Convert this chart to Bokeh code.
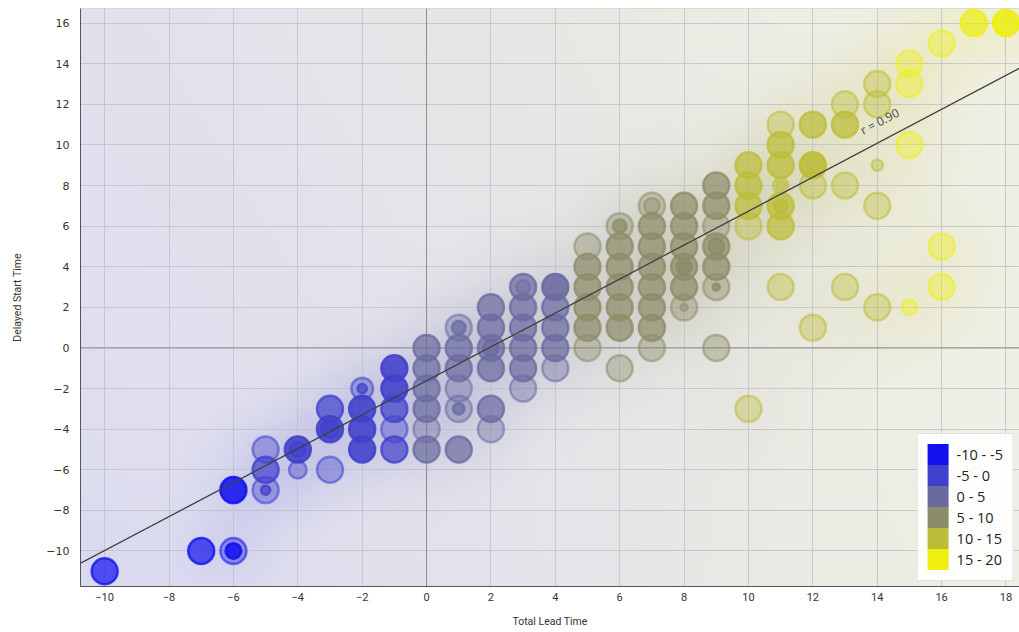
import numpy as np
from bokeh.plotting import figure
from bokeh.models import ColumnDataSource, Span, Slope, Legend, LegendItem, Label, FixedTicker
from bokeh.embed import file_html
from bokeh.resources import INLINE

# ---------------- data ----------------
x_ticks = list(range(-10, 19, 2))
y_ticks = list(range(-10, 17, 2))
class_labels = ["-10 - -5", "-5 - 0", "0 - 5", "5 - 10", "10 - 15", "15 - 20"]
class_edges = [-10, -5, 0, 5, 10, 15, 20]
class_colors = ["#1212ee", "#4040cc", "#6a6aa0", "#8c8c68", "#bcbc38", "#eeee10"]

lead_time = [-10, -7, -6, -6, -6,
             -5, -5, -5, -5, -4, -4, -4,
             -3, -3, -3, -3, -2, -2, -2, -2, -2,
             -1, -1, -1, -1, -1,
             0, 0, 0, 0, 0, 0,
             1, 1, 1, 1, 1, 1, 1, 1,
             2, 2, 2, 2, 2, 2, 2,
             3, 3, 3, 3, 3, 3, 3,
             4, 4, 4, 4, 4,
             5, 5, 5, 5, 5, 5,
             6, 6, 6, 6, 6, 6, 6, 6,
             7, 7, 7, 7, 7, 7, 7, 7, 7,
             8, 8, 8, 8, 8, 8, 8, 8, 8,
             9, 9, 9, 9, 9, 9, 9, 9, 9,
             10, 10, 10, 10, 10,
             11, 11, 11, 11, 11, 11, 11, 11, 11,
             12, 12, 12, 12,
             13, 13, 13, 13,
             14, 14, 14, 14, 14,
             15, 15, 15, 15,
             16, 16, 16,
             17, 18]
delay = [-11, -10, -10, -10, -7,
         -5, -6, -7, -7, -5, -5, -6,
         -3, -4, -4, -6, -2, -2, -3, -4, -5,
         -1, -2, -3, -4, -5,
         0, -1, -2, -3, -4, -5,
         1, 1, 0, -1, -2, -3, -3, -5,
         2, 1, 0, 0, -1, -3, -4,
         3, 3, 2, 1, 0, -1, -2,
         3, 2, 1, 0, -1,
         5, 4, 3, 2, 1, 0,
         6, 6, 5, 4, 3, 2, 1, -1,
         7, 7, 6, 5, 4, 3, 2, 1, 0,
         7, 6, 5, 4, 4, 4, 3, 2, 2,
         8, 7, 6, 5, 5, 4, 3, 3, 0,
         9, 8, 7, 6, -3,
         11, 10, 9, 8, 8, 7, 7, 6, 3,
         11, 9, 8, 1,
         12, 11, 8, 3,
         13, 12, 9, 7, 2,
         14, 13, 10, 2,
         15, 5, 3,
         16, 16]
bubble = [10, 10, 10, 5, 10,
          10, 10, 10, 2, 10, 5, 6,
          10, 10, 6, 10, 8, 2, 10, 10, 10,
          10, 10, 10, 10, 10,
          10, 10, 10, 10, 10, 10,
          10, 4, 10, 10, 10, 10, 3, 10,
          10, 10, 10, 5, 10, 10, 10,
          10, 4, 10, 10, 10, 10, 10,
          10, 10, 10, 10, 10,
          10, 10, 10, 10, 10, 10,
          10, 4, 10, 10, 10, 10, 10, 10,
          10, 5, 10, 10, 10, 10, 10, 10, 10,
          10, 10, 10, 10, 5, 2, 10, 10, 1,
          10, 10, 10, 10, 5, 10, 10, 1, 10,
          10, 10, 10, 10, 10,
          10, 10, 10, 5, 2, 10, 4, 10, 10,
          10, 10, 10, 10,
          10, 10, 10, 10,
          10, 10, 3, 10, 10,
          10, 10, 10, 5,
          10, 10, 10,
          10, 10]
intensity = [1, 1, 0, 2, 2,
             0, 1, 0, 1, 2, 1, 0,
             1, 2, 1, 0, 0, 1, 2, 2, 2,
             2, 2, 1, 0, 1,
             1, 1, 1, 1, 0, 1,
             0, 1, 1, 1, 0, 0, 1, 1,
             1, 1, 1, 1, 1, 1, 0,
             1, 0, 1, 1, 1, 1, 0,
             2, 1, 1, 1, 0,
             0, 1, 1, 1, 1, 0,
             0, 1, 1, 1, 1, 1, 1, 0,
             0, 0, 1, 1, 1, 1, 1, 1, 0,
             1, 1, 1, 1, 1, 1, 1, 0, 0,
             1, 1, 0, 1, 1, 1, 0, 1, 0,
             1, 1, 1, 0, 0,
             0, 1, 1, 0, 0, 1, 1, 1, 0,
             1, 2, 0, 0,
             0, 1, 0, 0,
             0, 0, 0, 0, 0,
             0, 0, 0, 0,
             0, 0, 0,
             1, 2]

fit_slope = 0.836
fit_intercept = -1.62
fit_r = 0.90

# ---------------- layout ----------------
W, H = 1019, 632
BL, BR, BT, BB = 80, 0, 8, 46
X0, X1 = -10.75, 18.42
Y0, Y1 = -11.75, 16.72

p = figure(width=W, height=H, output_backend="svg", toolbar_location=None,
           x_range=(X0, X1), y_range=(Y0, Y1),
           min_border_left=BL, min_border_right=BR, min_border_top=BT, min_border_bottom=BB)
p.border_fill_color = "white"
p.background_fill_color = "#f0f0f0"
p.outline_line_color = "#d4d4d4"

# ---------------- background field derived from the points ----------------
def hex2rgb(h):
    h = h.lstrip("#")
    return np.array([int(h[i:i + 2], 16) for i in (0, 2, 4)], dtype=float)

px = np.array(lead_time, dtype=float)
py = np.array(delay, dtype=float)
frame_w = W - BL - BR
frame_h = H - BT - BB
ppx = frame_w / (X1 - X0)
ppy = frame_h / (Y1 - Y0)
nx, ny = 260, 180
gx = np.linspace(X0, X1, nx)
gy = np.linspace(Y0, Y1, ny)
GX, GY = np.meshgrid(gx, gy)
dx = (GX[..., None] - px) * ppx / 32.0
dy = (GY[..., None] - py) * ppy / 32.0
d2 = dx ** 2 + dy ** 2
wv = np.exp(-d2 / (2 * 2.6 ** 2))
val = (wv * px).sum(-1) / (wv.sum(-1) + 1e-300)
dens = np.exp(-d2 / (2 * 1.0 ** 2)).sum(-1)
dn = dens / dens.max()
anchors = [(class_edges[i] + class_edges[i + 1]) / 2 for i in range(6)]
# light (yellow) tints: faint far away, stronger glow near the points
lightness = np.interp(val, anchors, [0.0, 0.0, 0.0, 0.0, 0.4, 1.0])
alpha = 0.09 * (1 - 0.7 * lightness) + 0.26 * dn + 0.3 * lightness * dn ** 0.6

cols = np.array([hex2rgb(c) for c in class_colors])
rgb = np.stack([np.interp(val, anchors, cols[:, k]) for k in range(3)], -1)
base = np.array([241.0, 241.0, 241.0])
out = base * (1 - alpha[..., None]) + rgb * alpha[..., None]
img = np.empty((ny, nx), dtype=np.uint32)
view = img.view(dtype=np.uint8).reshape((ny, nx, 4))
view[..., :3] = np.clip(out, 0, 255).astype(np.uint8)
view[..., 3] = 255
p.image_rgba(image=[img], x=X0, y=Y0, dw=X1 - X0, dh=Y1 - Y0, level="image")

# ---------------- grid / axes ----------------
p.xaxis.ticker = FixedTicker(ticks=x_ticks)
p.yaxis.ticker = FixedTicker(ticks=y_ticks)
for g in (p.xgrid, p.ygrid):
    g.grid_line_color = "#bfbfc6"
    g.grid_line_alpha = 0.8
    g.grid_line_width = 1
p.add_layout(Span(location=0, dimension="height", line_color="#8c8c8c", line_width=1, level="underlay"))
p.add_layout(Span(location=0, dimension="width", line_color="#8c8c8c", line_width=1, level="underlay"))

for ax in (p.xaxis, p.yaxis):
    ax.axis_line_color = "#555555"
    ax.major_tick_out = 0
    ax.major_tick_in = 0
    ax.minor_tick_out = 0
    ax.minor_tick_in = 0
    ax.major_label_text_color = "#333333"
    ax.axis_label_text_color = "#333333"
    ax.axis_label_text_font_style = "normal"
    ax.axis_label_text_font = "Roboto"
    ax.axis_label_text_font_size = "10.5px"
p.yaxis.major_label_text_font = "DejaVu Sans"
p.yaxis.major_label_text_font_size = "11px"
p.yaxis.major_label_standoff = 11
p.yaxis.axis_label = "Delayed Start Time"
p.yaxis.axis_label_standoff = 19
p.xaxis.major_label_text_font = "Roboto"
p.xaxis.major_label_text_font_size = "11px"
p.xaxis.major_label_standoff = 6
p.xaxis.axis_label = "Total Lead Time"
p.xaxis.axis_label_standoff = 11

# ---------------- bubbles ----------------
cls = np.clip(np.searchsorted(class_edges, px, side="right") - 1, 0, 5)
fill_alpha_by_level = [0.38, 0.7, 0.88]
line_alpha_by_level = [0.55, 0.78, 0.88]
order = np.argsort(-np.array(bubble), kind="stable")
src = ColumnDataSource(dict(
    x=px[order], y=py[order],
    size=(5 + 2.1 * np.array(bubble, dtype=float))[order],
    color=[class_colors[c] for c in cls[order]],
    fa=[fill_alpha_by_level[i] for i in np.array(intensity)[order]],
    la=[line_alpha_by_level[i] for i in np.array(intensity)[order]],
))
p.scatter("x", "y", size="size", source=src, fill_color="color", fill_alpha="fa",
          line_color="color", line_alpha="la", line_width=2.5)

# ---------------- regression ----------------
p.add_layout(Slope(gradient=fit_slope, y_intercept=fit_intercept, line_color="#404040", line_width=1.3))
lx = 14.2
ang = np.arctan(fit_slope * ppy / ppx)
p.add_layout(Label(x=lx, y=fit_slope * lx + fit_intercept + 11 / ppy, text="r = %.2f" % fit_r,
                   angle=ang, text_align="center", text_baseline="bottom",
                   text_font="Open Sans", text_font_size="12px", text_color="#444444"))

# ---------------- legend ----------------
items = []
for lab, c in zip(class_labels, class_colors):
    r = p.rect(x=[np.nan], y=[np.nan], width=1, height=1, fill_color=c, line_color=c,
               line_width=8.4, line_join="miter")
    items.append(LegendItem(label=lab, renderers=[r]))
leg = Legend(items=items, location="bottom_right", glyph_width=21, glyph_height=21,
             label_height=21, spacing=0, padding=10, margin=5, label_standoff=8,
             label_text_font="Open Sans", label_text_font_size="14.5px",
             label_text_color="#222222", background_fill_color="white",
             background_fill_alpha=0.9, border_line_color="#c4c4c4")
p.add_layout(leg)

open("out.html", "w").write(file_html(p, INLINE))
